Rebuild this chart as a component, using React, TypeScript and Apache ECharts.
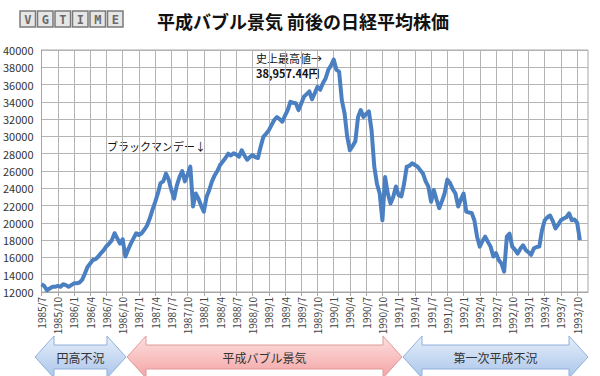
import React, { useEffect, useRef } from "react";
import * as echarts from "echarts";

// half-month categories: 1985/7/1 .. 1993/12/1
const categories: string[] = [];
for (let i = 0; i < 203; i++) {
  const t = 6 + Math.floor(i / 2);
  const y = 1985 + Math.floor(t / 12);
  const m = (t % 12) + 1;
  categories.push(`${y}/${m}/${i % 2 === 0 ? 1 : 16}`);
}

// Nikkei 225 readings (yen), half-monthly, 1985/7 .. 1993/11
const nikkei: (number | null)[] = [
  12900, 12700, 12200, 12400, 12600, 12600, 12700, 12600, 12900, 12800,
  12600, 12800, 13000, 13000, 13100, 13400, 14100, 14900, 15300, 15700,
  15800, 16100, 16500, 16850, 17300, 17600, 18000, 18800, 18200, 17600,
  18100, 16100, 16900, 17600, 18200, 18800, 18600, 18800, 19200, 19700,
  20500, 21500, 22400, 23400, 24600, 24800, 25700, 25000, 23800, 22800,
  24300, 25300, 26000, 24800, 25600, 26500, 21900, 23400, 22800, 22000,
  21300, 23000, 23800, 24800, 25500, 26000, 26700, 27100, 27500, 28000,
  27800, 28050, 27900, 27650, 28400, 27800, 27300, 27600, 27850, 27600,
  27500, 28800, 29950, 30300, 30700, 31300, 31900, 32250, 32000, 31700,
  32400, 33050, 34000, 33900, 33850, 33050, 33800, 34600, 34900, 35200,
  34300, 35000, 35750, 35400, 36150, 36700, 37700, 38200, 38900, 37700,
  37500, 34200, 32700, 29950, 28400, 28900, 29450, 32250, 33050, 32250,
  32600, 32900, 30700, 26500, 24500, 23400, 20300, 25300, 23400, 22250,
  23000, 24200, 23200, 23050, 24500, 26500, 26600, 26900, 26700, 26500,
  26100, 25700, 24800, 24200, 22450, 23800, 22700, 21700, 22500, 23400,
  25000, 24600, 23900, 23400, 21900, 22700, 23400, 21300, 21200, 21150,
  20300, 18400, 17250, 17900, 18400, 17800, 17250, 16100, 16500, 15700,
  15300, 14350, 18400, 18750, 17250, 16900, 16450, 17000, 17400, 16850,
  16600, 16300, 17050, 17200, 17250, 19150, 20300, 20650, 20850, 20200,
  19350, 19800, 20300, 20500, 20650, 21100, 20300, 20400, 20000, 18000,
  null, null, null,
];

const yTicks = { min: 12000, max: 40000, interval: 2000 };

const periods = [
  { name: "円高不況", from: 35, to: 126, kind: "blue" },
  { name: "平成バブル景気", from: 127, to: 402, kind: "pink" },
  { name: "第一次平成不況", from: 403, to: 588, kind: "blue" },
];

const FONT = "'Noto Sans CJK JP', 'Noto Sans', sans-serif";

function arrowPoints(x1: number, x2: number, head: number) {
  const mid = 357, top = 336, bot = 378, bTop = 345, bBot = 369;
  return [
    [x1, mid], [x1 + head, top], [x1 + head, bTop], [x2 - head, bTop],
    [x2 - head, top], [x2, mid], [x2 - head, bot], [x2 - head, bBot],
    [x1 + head, bBot], [x1 + head, bot],
  ];
}

export default function App() {
  const ref = useRef<HTMLDivElement>(null);
  useEffect(() => {
    if (!ref.current) return;
    const chart = echarts.init(ref.current, undefined, { renderer: "svg" });
    const letters = ["V", "G", "T", "I", "M", "E"];
    const logo = letters.map((l, i) => ({
      type: "group",
      x: 20 + i * 17.5,
      y: 11,
      children: [
        { type: "rect", shape: { x: 0, y: 0, width: 15.5, height: 16 }, style: { fill: "#e6e6e6", stroke: "#7a7a7a", lineWidth: 1.5 } },
        { type: "text", x: 7.75, y: 8.5, style: { text: l, fill: "#6a6a6a", font: "bold 12px 'DejaVu Sans Mono', monospace", textAlign: "center", textVerticalAlign: "middle" } },
      ],
    }));
    const arrows = periods.map((p) => {
      const blue = p.kind === "blue";
      return {
        type: "group",
        children: [
          {
            type: "polygon",
            shape: { points: arrowPoints(p.from, p.to, 19) },
            style: {
              fill: new echarts.graphic.LinearGradient(0, 0, 0, 1, blue
                ? [{ offset: 0, color: "#e6eefa" }, { offset: 1, color: "#aac5ea" }]
                : [{ offset: 0, color: "#fde0e0" }, { offset: 1, color: "#f4a3a3" }]),
              stroke: blue ? "#8fb0da" : "#e09a9a",
              lineWidth: 1,
            },
          },
          {
            type: "text",
            x: (p.from + p.to) / 2,
            y: 357,
            style: { text: p.name, fill: "#333", font: `12px ${FONT}`, textAlign: "center", textVerticalAlign: "middle" },
          },
        ],
      };
    });
    chart.setOption({
      animation: false,
      backgroundColor: "#ffffff",
      title: {
        text: "平成バブル景気 前後の日経平均株価",
        left: 298,
        textAlign: "center",
        top: 7,
        textStyle: { fontFamily: FONT, fontSize: 18, fontWeight: "bold", color: "#111" },
      },
      grid: { left: 38, right: 12, top: 50, bottom: 84, show: true, borderColor: "#a6a6a6", borderWidth: 1 },
      xAxis: {
        type: "category",
        data: categories,
        boundaryGap: false,
        axisLine: { lineStyle: { color: "#a6a6a6" } },
        axisTick: { show: true, interval: 5, length: 4, lineStyle: { color: "#a6a6a6" } },
        axisLabel: {
          interval: 5,
          rotate: 90,
          fontSize: 10,
          color: "#444",
          fontFamily: FONT,
          margin: 5,
          formatter: (v: string) => v.split("/").slice(0, 2).join("/"),
        },
        splitLine: { show: true, interval: 5, lineStyle: { color: "#b4b4b4", width: 1 } },
      },
      yAxis: {
        type: "value",
        min: yTicks.min,
        max: yTicks.max,
        interval: yTicks.interval,
        axisLine: { show: true, lineStyle: { color: "#a6a6a6" } },
        axisTick: { show: false },
        axisLabel: { fontSize: 11, color: "#333", fontFamily: FONT, margin: 8, formatter: (v: number) => String(v) },
        splitLine: { show: true, lineStyle: { color: "#b4b4b4", width: 1 } },
      },
      series: [
        {
          type: "line",
          data: nikkei,
          showSymbol: false,
          lineStyle: { color: "#4a7fc1", width: 4, join: "round" },
          itemStyle: { color: "#4a7fc1" },
        },
      ],
      graphic: [
        ...logo,
        { type: "text", x: 107, y: 146, style: { text: "ブラックマンデー↓", fill: "#111", font: `11px ${FONT}`, textVerticalAlign: "middle" } },
        { type: "text", x: 256, y: 58, style: { text: "史上最高値→", fill: "#111", font: `11px ${FONT}`, textVerticalAlign: "middle" } },
        { type: "text", x: 256, y: 73, style: { text: "38,957.44円", fill: "#111", font: `bold 11px ${FONT}`, textVerticalAlign: "middle" } },
        ...arrows,
      ],
    });
    return () => chart.dispose();
  }, []);
  return <div ref={ref} style={{ width: 600, height: 376, position: "absolute", left: 0, top: 0 }} />;
}
